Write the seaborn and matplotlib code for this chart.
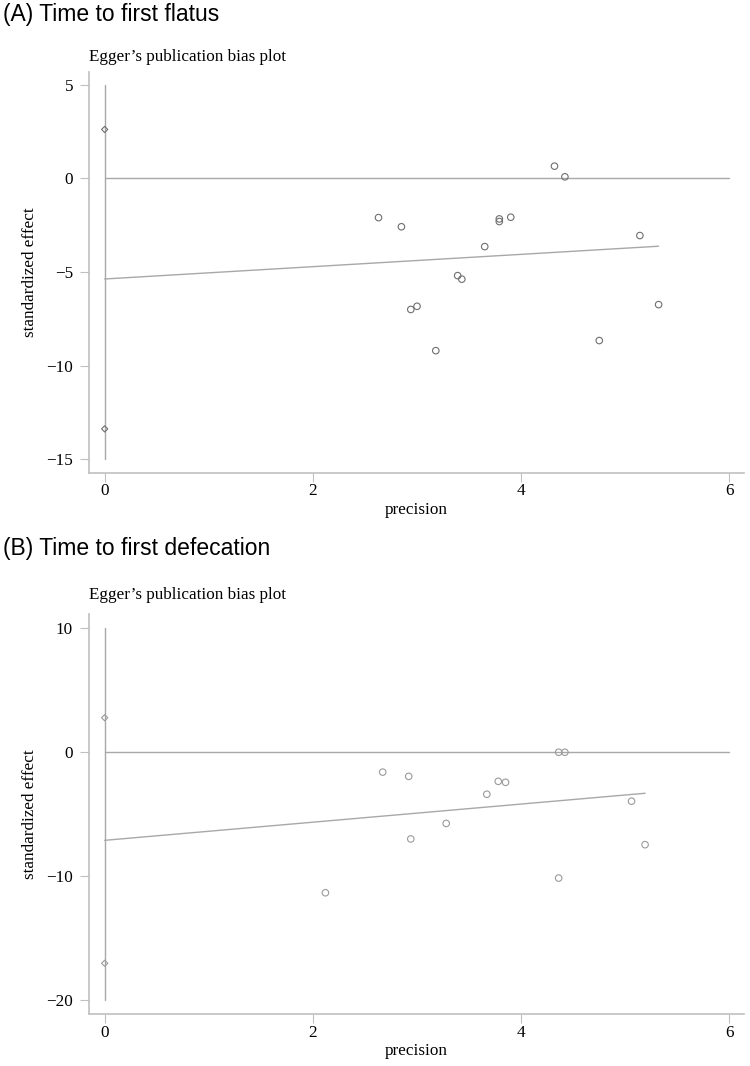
import numpy as np
import pandas as pd
import matplotlib
matplotlib.use("Agg")
import matplotlib.pyplot as plt
import seaborn as sns

# (A) Time to first flatus
flatus_precision = [4.32, 4.42, 2.63, 2.85, 3.79, 3.79, 3.90, 5.14, 3.65, 3.39,
                    3.43, 2.94, 3.00, 3.18, 4.75, 5.32]
flatus_effect = [0.66, 0.09, -2.09, -2.58, -2.16, -2.30, -2.07, -3.05, -3.64, -5.19,
                 -5.38, -7.00, -6.83, -9.20, -8.66, -6.74]
flatus_intercept = -5.37
flatus_slope = 0.329
flatus_ci = [-15, 5]
flatus_diamonds = [2.62, -13.38]
flatus_yticks = [5, 0, -5, -10, -15]
flatus_ylim = (-15.72, 5.71)

# (B) Time to first defecation
defec_precision = [2.67, 2.92, 3.78, 3.85, 3.67, 4.36, 4.42, 5.06, 3.28, 2.94,
                   5.19, 2.12, 4.36]
defec_effect = [-1.63, -1.97, -2.37, -2.45, -3.41, -0.03, -0.03, -3.97, -5.76, -7.01,
                -7.47, -11.34, -10.16]
defec_intercept = -7.12
defec_slope = 0.730
defec_ci = [-20, 10]
defec_diamonds = [2.75, -17.02]
defec_yticks = [10, 0, -10, -20]
defec_ylim = (-21.1, 11.1)

xticks = [0, 2, 4, 6]

sns.set_style("white")
plt.rcParams["font.family"] = ["Liberation Serif", "DejaVu Serif"]
plt.rcParams["axes.unicode_minus"] = True
plt.rcParams["text.color"] = "black"
plt.rcParams["axes.labelcolor"] = "black"

LINE = "#a8a8a8"
SPINE = "#c0c0c0"
SERIF = 12.3


def egger_panel(ax, prec, eff, b0, b1, ci, diam, yticks, ylim, mcolor):
    df = pd.DataFrame({"precision": prec, "effect": eff})
    # zero line
    ax.plot([0, 6], [0, 0], color=LINE, lw=1.0, zorder=1)
    # CI of intercept
    ax.plot([0, 0], ci, color=LINE, lw=1.0, zorder=1)
    sns.scatterplot(x=[0, 0], y=diam, ax=ax, marker="D", s=10,
                    facecolor="none", edgecolor=mcolor, linewidth=0.8, zorder=3)
    # regression line
    xs = np.array([0, max(prec)])
    line = pd.DataFrame({"precision": xs, "effect": b0 + b1 * xs})
    sns.lineplot(data=line, x="precision", y="effect", ax=ax, color=LINE,
                 lw=1.0, zorder=2)
    sns.scatterplot(data=df, x="precision", y="effect", ax=ax, marker="o", s=22,
                    facecolor="none", edgecolor=mcolor, linewidth=0.8, zorder=3)
    ax.set_xlim(-0.148, 6.14)
    ax.set_ylim(*ylim)
    ax.set_xticks(xticks)
    ax.set_yticks(yticks)
    for s in ["top", "right"]:
        ax.spines[s].set_visible(False)
    for s in ["left", "bottom"]:
        ax.spines[s].set_color(SPINE)
        ax.spines[s].set_linewidth(1.2)
    ax.tick_params(axis="both", direction="out", length=6.7, width=0.8,
                   bottom=True, left=True, color=SPINE, labelsize=SERIF,
                   labelcolor="black")
    ax.tick_params(axis="y", pad=5)
    ax.tick_params(axis="x", pad=1)
    ax.set_xlabel("precision", fontsize=SERIF, labelpad=2, color="black")
    ax.set_ylabel("standardized effect", fontsize=SERIF, labelpad=6, color="black")


fig = plt.figure(figsize=(7.5, 10.66), dpi=100)
ax1 = fig.add_axes([0.119, 0.5566, 0.873, 0.3762])
ax2 = fig.add_axes([0.119, 0.0488, 0.873, 0.3752])

egger_panel(ax1, flatus_precision, flatus_effect, flatus_intercept, flatus_slope,
            flatus_ci, flatus_diamonds, flatus_yticks, flatus_ylim, "#6e6e6e")
egger_panel(ax2, defec_precision, defec_effect, defec_intercept, defec_slope,
            defec_ci, defec_diamonds, defec_yticks, defec_ylim, "#9a9a9a")

H = 1066
fig.text(0.004, 1 - 21 / H, "(A) Time to first flatus", fontsize=16.5,
         family=["Liberation Sans", "DejaVu Sans"], va="baseline", color="black")
fig.text(0.004, 1 - 555 / H, "(B) Time to first defecation", fontsize=16.5,
         family=["Liberation Sans", "DejaVu Sans"], va="baseline", color="black")
fig.text(89 / 750, 1 - 61 / H, "Egger\u2019s publication bias plot", fontsize=SERIF,
         va="baseline", color="black")
fig.text(89 / 750, 1 - 599 / H, "Egger\u2019s publication bias plot", fontsize=SERIF,
         va="baseline", color="black")

fig.savefig("out.png", dpi=100)
